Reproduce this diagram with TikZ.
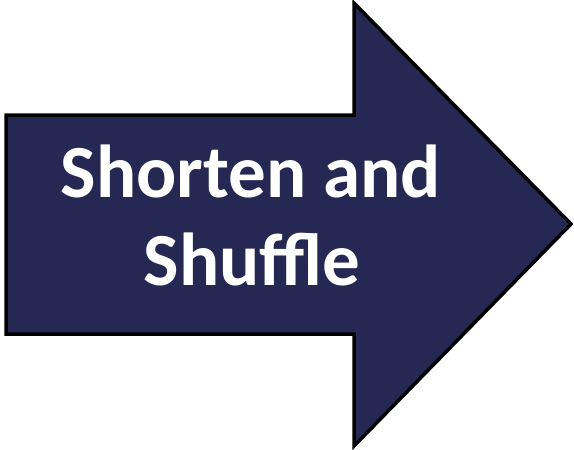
\documentclass[tikz,border=0pt]{standalone}
\usepackage{fontspec}
\setmainfont{Carlito}
\definecolor{arrowfill}{RGB}{38,40,84}
\begin{document}
\begin{tikzpicture}[x=1pt,y=-1pt,
  arrowshape/.style={fill=arrowfill,draw=black,line width=3.5pt,line join=miter},
  label/.style={text=white,font=\fontsize{75}{88}\selectfont\bfseries,inner sep=0pt,anchor=base}]
\useasboundingbox (0,0) rectangle (574,450);
\fill[white] (0,0) rectangle (574,450);
\draw[arrowshape] (6,115) -- (354,115) -- (354,3) -- (571,224) -- (354,446) -- (354,334) -- (6,334) -- cycle;
\node[label] (l1) at (251,197) {Shorten and};
\node[label] (l2) at (252,285) {Shuffle};
\end{tikzpicture}
\end{document}
